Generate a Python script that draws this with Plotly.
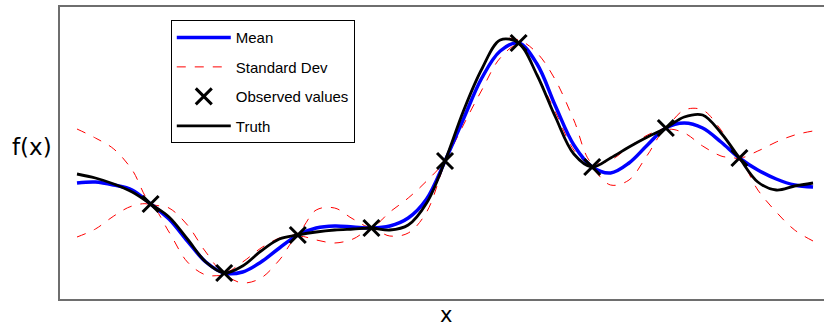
import plotly.graph_objects as go

# x grid (arbitrary units, 0..10 in steps of 0.25)
x_grid = [i * 0.25 for i in range(41)]

truth = [12.5, 12.1, 11.5, 10.7, 9.5, 8.2, 6.0, 3.7, 2.6, 3.3, 4.8, 6.0, 6.4, 6.7, 6.9, 7.0,
         7.1, 6.9, 7.4, 9.6, 13.8, 18.8, 23.0, 25.9, 25.6, 22.4, 18.2, 14.5, 13.2, 14.1, 15.2,
         16.2, 17.1, 18.2, 18.4, 16.6, 14.1, 11.7, 10.9, 11.3, 11.6]
mean = [11.6, 11.7, 11.4, 10.9, 9.5, 8.0, 5.8, 3.7, 2.6, 2.7, 3.7, 5.1, 6.4, 7.1, 7.3, 7.2,
        7.1, 7.3, 8.1, 10.0, 13.8, 18.0, 22.1, 24.8, 25.6, 23.5, 19.3, 15.4, 13.2, 12.6, 13.6,
        15.4, 17.1, 17.6, 17.1, 15.7, 14.1, 12.9, 12.0, 11.4, 11.2]
std_upper = [17.0, 16.1, 15.0, 12.9, 9.6, 9.1, 7.4, 4.7, 2.7, 3.7, 5.1, 6.1, 6.6, 8.9, 9.1, 8.0,
             7.2, 8.7, 10.1, 11.8, 13.9, 18.9, 23.1, 25.9, 25.9, 24.6, 21.9, 17.9, 13.6, 13.9, 15.2,
             16.4, 17.2, 18.9, 18.9, 16.9, 14.2, 14.8, 15.7, 16.4, 16.8]
std_lower = [6.2, 7.0, 8.3, 9.3, 9.4, 6.7, 3.7, 2.4, 2.3, 1.6, 2.1, 3.9, 6.2, 5.9, 5.6, 6.0,
             7.0, 6.3, 6.6, 8.7, 13.6, 17.4, 20.9, 24.1, 25.4, 22.4, 18.7, 14.9, 13.1, 11.4, 11.9,
             14.4, 16.9, 16.6, 15.3, 14.3, 13.9, 10.9, 8.7, 6.9, 5.8]

obs_x = [1, 2, 3, 4, 5, 6, 7, 8, 9]
obs_y = [9.5, 2.6, 6.4, 7.1, 13.8, 25.6, 13.2, 17.1, 14.1]

legend_names = ["Mean", "Standard Dev", "Observed values", "Truth"]

fig = go.Figure()

dash_style = dict(color="#ff0000", width=1, dash="9px,9px", shape="spline", smoothing=1.0)

fig.add_trace(go.Scatter(x=x_grid, y=std_upper, mode="lines", line=dash_style,
                         name=legend_names[1], legendgroup="sd", legendrank=2))
fig.add_trace(go.Scatter(x=x_grid, y=std_lower, mode="lines", line=dash_style,
                         name=legend_names[1], legendgroup="sd", showlegend=False))
fig.add_trace(go.Scatter(x=x_grid, y=mean, mode="lines",
                         line=dict(color="#0000ff", width=3.5, shape="spline", smoothing=1.0),
                         name=legend_names[0], legendgroup="mean", legendrank=1))
fig.add_trace(go.Scatter(x=x_grid, y=truth, mode="lines",
                         line=dict(color="#000000", width=2.8, shape="spline", smoothing=1.0),
                         name=legend_names[3], legendgroup="truth", legendrank=4))
fig.add_trace(go.Scatter(x=obs_x, y=obs_y, mode="markers",
                         marker=dict(symbol="x-thin", size=16, color="#000000",
                                     line=dict(color="#000000", width=3)),
                         name=legend_names[2], legendgroup="obs", legendrank=3))

axis_line = dict(showline=True, linecolor="#6e6e6e", linewidth=2, showgrid=False,
                 zeroline=False, showticklabels=False, ticks="")

fig.update_xaxes(range=[-0.231, 10.149], mirror=True, **axis_line)
fig.update_yaxes(range=[0, 29.2], mirror=False, **axis_line)

fig.add_annotation(text="f(x)", xref="paper", yref="paper", x=0, y=0.52,
                   xanchor="right", yanchor="middle", xshift=-6, showarrow=False,
                   font=dict(family="DejaVu Sans", size=23, color="#000000"))
fig.add_annotation(text="x", xref="paper", yref="paper", x=0.505, y=0,
                   xanchor="center", yanchor="top", yshift=-3, showarrow=False,
                   borderpad=0,
                   font=dict(family="DejaVu Sans", size=21, color="#000000"))

fig.update_layout(
    width=824, height=327,
    margin=dict(l=60, r=0, t=7, b=28),
    plot_bgcolor="#ffffff", paper_bgcolor="#ffffff",
    showlegend=True,
    legend=dict(x=0.145, y=0.955, xanchor="left", yanchor="top",
                bgcolor="#ffffff", bordercolor="#000000", borderwidth=1,
                font=dict(family="Liberation Sans, Arial", size=15, color="#000000"),
                tracegroupgap=7, itemwidth=54, traceorder="grouped"),
)

fig.write_html("out.html")
